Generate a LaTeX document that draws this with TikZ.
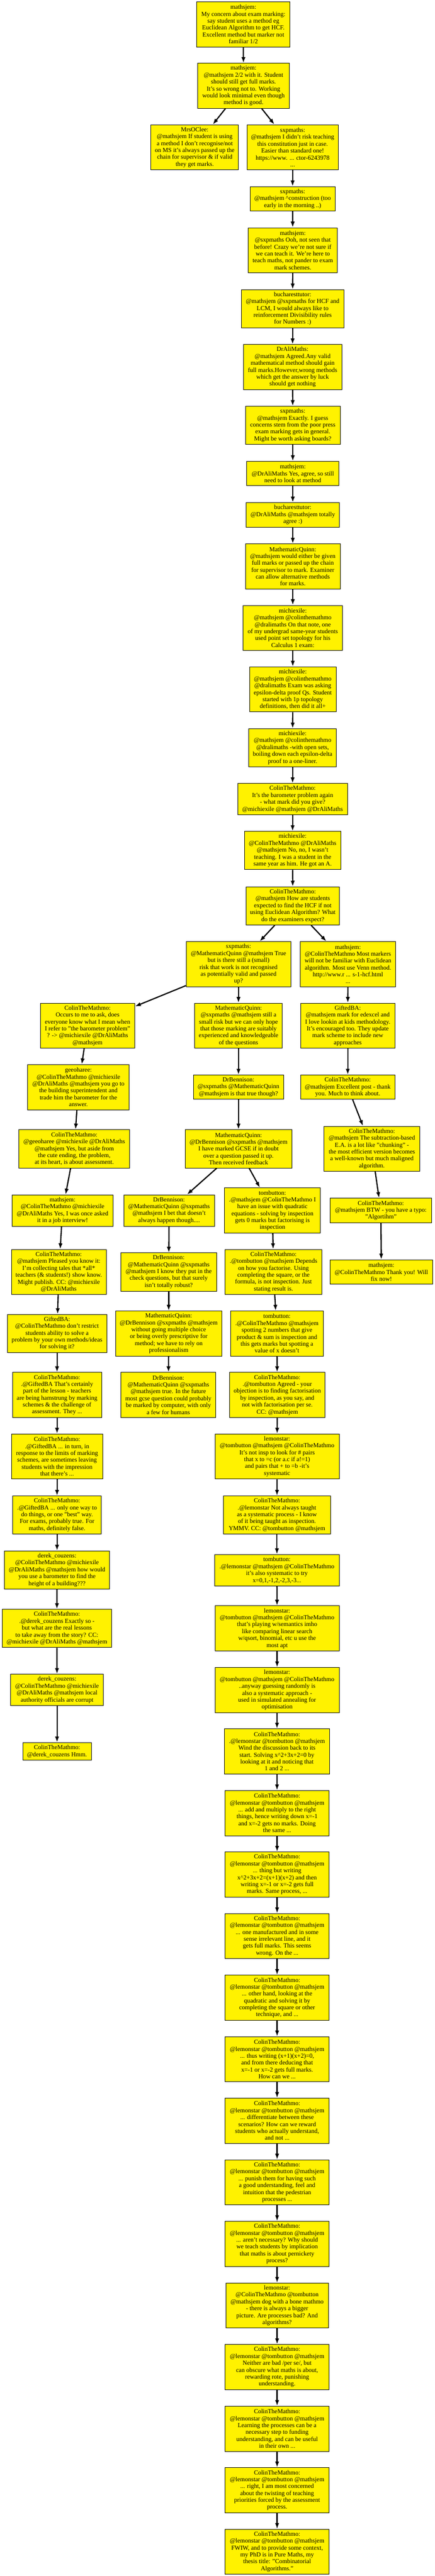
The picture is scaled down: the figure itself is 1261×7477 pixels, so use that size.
\documentclass[tikz,border=0pt]{standalone}
\usepackage{fontspec}
\setmainfont{Liberation Serif}
\usetikzlibrary{arrows.meta}

\begin{document}
\begin{tikzpicture}[x=1pt,y=-1pt,
    tweet/.style={draw=black,line width=1.3pt,fill=yellow,align=center,inner sep=2pt,
      font=\fontsize{18}{20}\selectfont},
    reply/.style={line width=3.5pt,-{Latex[length=17pt,width=12pt]}}]
  \useasboundingbox (0,0) rectangle (1261,7477);

  \node[tweet,minimum width=270,minimum height=131] (concern) at (706,70.5) {mathsjem:\\My concern about exam marking:\\say student uses a method eg\\Euclidean Algorithm to get HCF.\\Excellent method but marker not\\familiar 1/2};
  \node[tweet,minimum width=265,minimum height=131] (twoOfTwo) at (706.5,249) {mathsjem:\\@mathsjem 2/2 with it. Student\\should still get full marks.\\It's so wrong not to. Working\\would look minimal even though\\method is good.};
  \node[tweet,minimum width=254,minimum height=131] (mrsoclee) at (565,427.5) {MrsOClee:\\@mathsjem If student is using\\a method I don't recognise/not\\on MS it's always passed up the\\chain for supervisor \& if valid\\they get marks.};
  \node[tweet,minimum width=264,minimum height=131] (sxpTeach) at (849,427.5) {sxpmaths:\\@mathsjem I didn't risk teaching\\this constitution just in case.\\Easier than standard one!\\https://www. ... ctor-6243978\\...};
  \node[tweet,minimum width=246,minimum height=71] (sxpConstr) at (849,577) {sxpmaths:\\@mathsjem \^{}construction (too\\early in the morning ..)};
  \node[tweet,minimum width=259,minimum height=131] (mjOoh) at (849.5,726.5) {mathsjem:\\@sxpmaths Ooh, not seen that\\before! Crazy we're not sure if\\we can teach it. We're here to\\teach maths, not pander to exam\\mark schemes.};
  \node[tweet,minimum width=298,minimum height=111] (bucHcf) at (849,896) {bucharesttutor:\\@mathsjem @sxpmaths for HCF and\\LCM, I would always like to\\reinforcement Divisibility rules\\for Numbers :)};
  \node[tweet,minimum width=286,minimum height=131] (draliAgreed) at (849,1065.5) {DrAliMaths:\\@mathsjem Agreed.Any valid\\mathematical method should gain\\full marks.However,wrong methods\\which get the answer by luck\\should get nothing};
  \node[tweet,minimum width=275,minimum height=111] (sxpExactly) at (849.5,1234.5) {sxpmaths:\\@mathsjem Exactly. I guess\\concerns stem from the poor press\\exam marking gets in general.\\Might be worth asking boards?};
  \node[tweet,minimum width=267,minimum height=71] (mjAgree) at (849.5,1374.5) {mathsjem:\\@DrAliMaths Yes, agree, so still\\need to look at method};
  \node[tweet,minimum width=271,minimum height=71] (bucAgree) at (849.5,1494.5) {bucharesttutor:\\@DrAliMaths @mathsjem totally\\agree :)};
  \node[tweet,minimum width=275,minimum height=131] (mqFull) at (849.5,1644) {MathematicQuinn:\\@mathsjem would either be given\\full marks or passed up the chain\\for supervisor to mark. Examiner\\can allow alternative methods\\for marks.};
  \node[tweet,minimum width=289,minimum height=131] (mxNote) at (849.5,1822.5) {michiexile:\\@mathsjem @colinthemathmo\\@dralimaths On that note, one\\of my undergrad same-year students\\used point set topology for his\\Calculus 1 exam:};
  \node[tweet,minimum width=251,minimum height=131] (mxExam) at (849.5,2001) {michiexile:\\@mathsjem @colinthemathmo\\@dralimaths Exam was asking\\epsilon-delta proof Qs. Student\\started with 1p topology\\definitions, then did it all+};
  \node[tweet,minimum width=254,minimum height=111] (mxOpen) at (849,2170.5) {michiexile:\\@mathsjem @colinthemathmo\\@dralimaths -with open sets,\\boiling down each epsilon-delta\\proof to a one-liner.};
  \node[tweet,minimum width=318,minimum height=91] (ctmBarometer) at (849,2319.5) {ColinTheMathmo:\\It's the barometer problem again\\- what mark did you give?\\@michiexile @mathsjem @DrAliMaths};
  \node[tweet,minimum width=280,minimum height=111] (mxStudent) at (849,2468.5) {michiexile:\\@ColinTheMathmo @DrAliMaths\\@mathsjem No, no, I wasn't\\teaching. I was a student in the\\same year as him. He got an A.};
  \node[tweet,minimum width=271,minimum height=111] (ctmHcf) at (849.5,2629.5) {ColinTheMathmo:\\@mathsjem How are students\\expected to find the HCF if not\\using Euclidean Algorithm? What\\do the examiners expect?};
  \node[tweet,minimum width=304,minimum height=131] (sxpRisk) at (692,2798.5) {sxpmaths:\\@MathematicQuinn @mathsjem True\\but is there still a (small)\\risk that work is not recognised\\as potentially valid and passed\\up?};
  \node[tweet,minimum width=277,minimum height=131] (mjVenn) at (1009.5,2798.5) {mathsjem:\\@ColinTheMathmo Most markers\\will not be familiar with Euclidean\\algorithm. Most use Venn method.\\http://www.r ... s-1-hcf.html\\...};
  \node[tweet,minimum width=274,minimum height=131] (ctmOccurs) at (254,2977) {ColinTheMathmo:\\Occurs to me to ask, does\\everyone know what I mean when\\I refer to "the barometer problem"\\? -> @michiexile @DrAliMaths\\@mathsjem};
  \node[tweet,minimum width=254,minimum height=131] (mqHope) at (692,2977) {MathematicQuinn:\\@sxpmaths @mathsjem still a\\small risk but we can only hope\\that those marking are suitably\\experienced and knowledgeable\\of the questions};
  \node[tweet,minimum width=274,minimum height=131] (giftedEdexcel) at (1009,2977) {GiftedBA:\\@mathsjem mark for edexcel and\\I love lookin at kids methodology.\\It's encouraged too. They update\\mark scheme to include new\\approaches};
  \node[tweet,minimum width=295,minimum height=131] (geeoharee) at (227.5,3155.5) {geeoharee:\\@ColinTheMathmo @michiexile\\@DrAliMaths @mathsjem you go to\\the building superintendent and\\trade him the barometer for the\\answer.};
  \node[tweet,minimum width=262,minimum height=71] (drbTrue) at (692,3155.5) {DrBennison:\\@sxpmaths @MathematicQuinn\\@mathsjem is that true though?};
  \node[tweet,minimum width=274,minimum height=71] (ctmExcellent) at (1009,3155.5) {ColinTheMathmo:\\@mathsjem Excellent post - thank\\you. Much to think about.};
  \node[tweet,minimum width=321,minimum height=111] (ctmAside) at (215.5,3334.5) {ColinTheMathmo:\\@geeoharee @michiexile @DrAliMaths\\@mathsjem Yes, but aside from\\the cute ending, the problem,\\at its heart, is about assessment.};
  \node[tweet,minimum width=310,minimum height=111] (mqGcse) at (692,3334.5) {MathematicQuinn:\\@DrBennison @sxpmaths @mathsjem\\I have marked GCSE if in doubt\\over a question passed it up.\\Then received feedback};
  \node[tweet,minimum width=278,minimum height=131] (ctmChunking) at (1079,3334.5) {ColinTheMathmo:\\@mathsjem The subtraction-based\\E.A. is a lot like "chunking" -\\the most efficient version becomes\\a well-known but much maligned\\algorithm.};
  \node[tweet,minimum width=293,minimum height=91] (mjInterview) at (181.5,3513.5) {mathsjem:\\@ColinTheMathmo @michiexile\\@DrAliMaths Yes, I was once asked\\it in a job interview!};
  \node[tweet,minimum width=263,minimum height=91] (drbBet) at (490.5,3513.5) {DrBennison:\\@MathematicQuinn @sxpmaths\\@mathsjem I bet that doesn't\\always happen though....};
  \node[tweet,minimum width=279,minimum height=131] (tbIssue) at (790.5,3513.5) {tombutton:\\.@mathsjem @ColinTheMathmo I\\have an issue with quadratic\\equations - solving by inspection\\gets 0 marks but factorising is\\inspection};
  \node[tweet,minimum width=294,minimum height=71] (ctmTypo) at (1105,3513.5) {ColinTheMathmo:\\@mathsjem BTW - you have a typo:\\"Algortihm"};
  \node[tweet,minimum width=275,minimum height=131] (ctmTales) at (170.5,3692) {ColinTheMathmo:\\@mathsjem Pleased you know it:\\I'm collecting tales that *all*\\teachers (\& students!) show know.\\Might publish. CC: @michiexile\\@DrAliMaths};
  \node[tweet,minimum width=277,minimum height=111] (drbCheck) at (489.5,3692) {DrBennison:\\@MathematicQuinn @sxpmaths\\@mathsjem I know they put in the\\check questions, but that surely\\isn't totally robust?};
  \node[tweet,minimum width=281,minimum height=131] (ctmDepends) at (793.5,3692) {ColinTheMathmo:\\.@tombutton @mathsjem Depends\\on how you factorise. Using\\completing the square, or the\\formula, is not inspection. Just\\stating result is.};
  \node[tweet,minimum width=297,minimum height=71] (mjFix) at (1106.5,3692) {mathsjem:\\@ColinTheMathmo Thank you! Will\\fix now!};
  \node[tweet,minimum width=289,minimum height=111] (giftedRestrict) at (165.5,3870.5) {GiftedBA:\\@ColinTheMathmo don't restrict\\students ability to solve a\\problem by your own methods/ideas\\for solving it?};
  \node[tweet,minimum width=309,minimum height=131] (mqProfession) at (489.5,3870.5) {MathematicQuinn:\\@DrBennison @sxpmaths @mathsjem\\without going multiple choice\\or being overly prescriptive for\\method; we have to rely on\\professionalism};
  \node[tweet,minimum width=269,minimum height=131] (tbSpotting) at (803.5,3870.5) {tombutton:\\.@ColinTheMathmo @mathsjem\\spotting 2 numbers that give\\product \& sum is inspection and\\this gets marks but spotting a\\value of x doesn't};
  \node[tweet,minimum width=259,minimum height=131] (ctmLesson) at (165.5,4049) {ColinTheMathmo:\\.@GiftedBA That's certainly\\part of the lesson - teachers\\are being hamstrung by marking\\schemes \& the challenge of\\assessment. They ...};
  \node[tweet,minimum width=275,minimum height=131] (drbComputer) at (488.5,4049) {DrBennison:\\@MathematicQuinn @sxpmaths\\@mathsjem true. In the future\\most gcse question could probably\\be marked by computer, with only\\a few for humans};
  \node[tweet,minimum width=277,minimum height=131] (ctmObjection) at (804.5,4049) {ColinTheMathmo:\\.@tombutton Agreed - your\\objection is to finding factorisation\\by inspection, as you say, and\\not with factorisation per se.\\CC: @mathsjem};
  \node[tweet,minimum width=265,minimum height=131] (ctmInTurn) at (165.5,4227.5) {ColinTheMathmo:\\.@GiftedBA ... in turn, in\\response to the limits of marking\\schemes, are sometimes leaving\\students with the impression\\that there's ...};
  \node[tweet,minimum width=360,minimum height=131] (lemPairs) at (804,4227.5) {lemonstar:\\@tombutton @mathsjem @ColinTheMathmo\\It's not insp to look for \# pairs\\that x to =c (or a.c if a!=1)\\and pairs that + to =b -it's\\systematic};
  \node[tweet,minimum width=257,minimum height=111] (ctmOneWay) at (165.5,4397.5) {ColinTheMathmo:\\.@GiftedBA ... only one way to\\do things, or one "best" way.\\For exams, probably true. For\\maths, definitely false.};
  \node[tweet,minimum width=311,minimum height=111] (ctmNotAlways) at (803.5,4397.5) {ColinTheMathmo:\\.@lemonstar Not always taught\\as a systematic process - I know\\of it being taught as inspection.\\YMMV. CC: @tombutton @mathsjem};
  \node[tweet,minimum width=305,minimum height=111] (derekHeight) at (165.5,4557) {derek\_couzens:\\@ColinTheMathmo @michiexile\\@DrAliMaths @mathsjem how would\\you use a barometer to find the\\height of a building???};
  \node[tweet,minimum width=363,minimum height=91] (tbTry) at (803.5,4557.5) {tombutton:\\.@lemonstar @mathsjem @ColinTheMathmo\\it's also systematic to try\\x=0,1,-1,2,-2,3,-3...};
  \node[tweet,minimum width=318,minimum height=111] (ctmLessons) at (165,4726.5) {ColinTheMathmo:\\.@derek\_couzens Exactly so -\\but what are the real lessons\\to take away from the story? CC:\\@michiexile @DrAliMaths @mathsjem};
  \node[tweet,minimum width=360,minimum height=131] (lemSemantics) at (804,4726.5) {lemonstar:\\@tombutton @mathsjem @ColinTheMathmo\\that's playing w/semantics imho\\like comparing linear search\\w/qsort, binomial, etc u use the\\most apt};
  \node[tweet,minimum width=269,minimum height=91] (derekCorrupt) at (165.5,4905) {derek\_couzens:\\@ColinTheMathmo @michiexile\\@DrAliMaths @mathsjem local\\authority officials are corrupt};
  \node[tweet,minimum width=360,minimum height=131] (lemAnnealing) at (804,4905.5) {lemonstar:\\@tombutton @mathsjem @ColinTheMathmo\\..anyway guessing randomly is\\also a systematic approach -\\used in simulated annealing for\\optimisation};
  \node[tweet,minimum width=199,minimum height=51] (ctmHmm) at (165.5,5083.5) {ColinTheMathmo:\\@derek\_couzens Hmm.};
  \node[tweet,minimum width=305,minimum height=131] (ctmWind) at (803.5,5083.5) {ColinTheMathmo:\\.@lemonstar @tombutton @mathsjem\\Wind the discussion back to its\\start. Solving x\^{}2+3x+2=0 by\\looking at it and noticing that\\1 and 2 ...};
  \node[tweet,minimum width=302,minimum height=131] (ctmAdd) at (804,5262.5) {ColinTheMathmo:\\@lemonstar @tombutton @mathsjem\\... add and multiply to the right\\things, hence writing down x=-1\\and x=-2 gets no marks. Doing\\the same ...};
  \node[tweet,minimum width=302,minimum height=131] (ctmThing) at (804,5441) {ColinTheMathmo:\\@lemonstar @tombutton @mathsjem\\... thing but writing\\x\^{}2+3x+2=(x+1)(x+2) and then\\writing x=-1 or x=-2 gets full\\marks. Same process, ...};
  \node[tweet,minimum width=302,minimum height=131] (ctmManufactured) at (804,5619.5) {ColinTheMathmo:\\@lemonstar @tombutton @mathsjem\\... one manufactured and in some\\sense irrelevant line, and it\\gets full marks. This seems\\wrong. On the ...};
  \node[tweet,minimum width=302,minimum height=131] (ctmOtherHand) at (804,5798.5) {ColinTheMathmo:\\@lemonstar @tombutton @mathsjem\\... other hand, looking at the\\quadratic and solving it by\\completing the square or other\\technique, and ...};
  \node[tweet,minimum width=302,minimum height=131] (ctmThus) at (804,5977) {ColinTheMathmo:\\@lemonstar @tombutton @mathsjem\\... thus writing (x+1)(x+2)=0,\\and from there deducing that\\x=-1 or x=-2 gets full marks.\\How can we ...};
  \node[tweet,minimum width=302,minimum height=131] (ctmDifferentiate) at (804,6155.5) {ColinTheMathmo:\\@lemonstar @tombutton @mathsjem\\... differentiate between these\\scenarios? How can we reward\\students who actually understand,\\and not ...};
  \node[tweet,minimum width=302,minimum height=131] (ctmPunish) at (804,6334.5) {ColinTheMathmo:\\@lemonstar @tombutton @mathsjem\\... punish them for having such\\a good understanding, feel and\\intuition that the pedestrian\\processes ...};
  \node[tweet,minimum width=302,minimum height=131] (ctmPernickety) at (804,6513) {ColinTheMathmo:\\@lemonstar @tombutton @mathsjem\\... aren't necessary? Why should\\we teach students by implication\\that maths is about pernickety\\process?};
  \node[tweet,minimum width=298,minimum height=131] (lemBone) at (804,6692) {lemonstar:\\@ColinTheMathmo @tombutton\\@mathsjem dog with a bone mathmo\\- there is always a bigger\\picture. Are processes bad? And\\algorithms?};
  \node[tweet,minimum width=302,minimum height=131] (ctmNeither) at (804,6870.5) {ColinTheMathmo:\\@lemonstar @tombutton @mathsjem\\Neither are bad /per se/, but\\can obscure what maths is about,\\rewarding rote, punishing\\understanding.};
  \node[tweet,minimum width=302,minimum height=131] (ctmLearning) at (804,7049.5) {ColinTheMathmo:\\@lemonstar @tombutton @mathsjem\\Learning the processes can be a\\necessary step to funding\\understanding, and can be useful\\in their own ...};
  \node[tweet,minimum width=302,minimum height=131] (ctmTwisting) at (804,7228) {ColinTheMathmo:\\@lemonstar @tombutton @mathsjem\\... right, I am most concerned\\about the twisting of teaching\\priorities forced by the assessment\\process.};
  \node[tweet,minimum width=302,minimum height=131] (ctmContext) at (804,7406.5) {ColinTheMathmo:\\@lemonstar @tombutton @mathsjem\\FWIW, and to provide some context,\\my PhD is in Pure Maths, my\\thesis title: "Combinatorial\\Algorithms."};

  \draw[reply] (concern) -- (twoOfTwo);
  \draw[reply] (twoOfTwo) -- (mrsoclee);
  \draw[reply] (twoOfTwo) -- (sxpTeach);
  \draw[reply] (sxpTeach) -- (sxpConstr);
  \draw[reply] (sxpConstr) -- (mjOoh);
  \draw[reply] (mjOoh) -- (bucHcf);
  \draw[reply] (bucHcf) -- (draliAgreed);
  \draw[reply] (draliAgreed) -- (sxpExactly);
  \draw[reply] (sxpExactly) -- (mjAgree);
  \draw[reply] (mjAgree) -- (bucAgree);
  \draw[reply] (bucAgree) -- (mqFull);
  \draw[reply] (mqFull) -- (mxNote);
  \draw[reply] (mxNote) -- (mxExam);
  \draw[reply] (mxExam) -- (mxOpen);
  \draw[reply] (mxOpen) -- (ctmBarometer);
  \draw[reply] (ctmBarometer) -- (mxStudent);
  \draw[reply] (mxStudent) -- (ctmHcf);
  \draw[reply] (ctmHcf) -- (sxpRisk);
  \draw[reply] (ctmHcf) -- (mjVenn);
  \draw[reply] (sxpRisk) -- (ctmOccurs);
  \draw[reply] (sxpRisk) -- (mqHope);
  \draw[reply] (mjVenn) -- (giftedEdexcel);
  \draw[reply] (ctmOccurs) -- (geeoharee);
  \draw[reply] (mqHope) -- (drbTrue);
  \draw[reply] (giftedEdexcel) -- (ctmExcellent);
  \draw[reply] (geeoharee) -- (ctmAside);
  \draw[reply] (drbTrue) -- (mqGcse);
  \draw[reply] (ctmExcellent) -- (ctmChunking);
  \draw[reply] (ctmAside) -- (mjInterview);
  \draw[reply] (mqGcse) -- (drbBet);
  \draw[reply] (mqGcse) -- (tbIssue);
  \draw[reply] (ctmChunking) -- (ctmTypo);
  \draw[reply] (mjInterview) -- (ctmTales);
  \draw[reply] (drbBet) -- (drbCheck);
  \draw[reply] (tbIssue) -- (ctmDepends);
  \draw[reply] (ctmTypo) -- (mjFix);
  \draw[reply] (ctmTales) -- (giftedRestrict);
  \draw[reply] (drbCheck) -- (mqProfession);
  \draw[reply] (ctmDepends) -- (tbSpotting);
  \draw[reply] (giftedRestrict) -- (ctmLesson);
  \draw[reply] (mqProfession) -- (drbComputer);
  \draw[reply] (tbSpotting) -- (ctmObjection);
  \draw[reply] (ctmLesson) -- (ctmInTurn);
  \draw[reply] (ctmObjection) -- (lemPairs);
  \draw[reply] (ctmInTurn) -- (ctmOneWay);
  \draw[reply] (lemPairs) -- (ctmNotAlways);
  \draw[reply] (ctmOneWay) -- (derekHeight);
  \draw[reply] (ctmNotAlways) -- (tbTry);
  \draw[reply] (derekHeight) -- (ctmLessons);
  \draw[reply] (tbTry) -- (lemSemantics);
  \draw[reply] (ctmLessons) -- (derekCorrupt);
  \draw[reply] (lemSemantics) -- (lemAnnealing);
  \draw[reply] (derekCorrupt) -- (ctmHmm);
  \draw[reply] (lemAnnealing) -- (ctmWind);
  \draw[reply] (ctmWind) -- (ctmAdd);
  \draw[reply] (ctmAdd) -- (ctmThing);
  \draw[reply] (ctmThing) -- (ctmManufactured);
  \draw[reply] (ctmManufactured) -- (ctmOtherHand);
  \draw[reply] (ctmOtherHand) -- (ctmThus);
  \draw[reply] (ctmThus) -- (ctmDifferentiate);
  \draw[reply] (ctmDifferentiate) -- (ctmPunish);
  \draw[reply] (ctmPunish) -- (ctmPernickety);
  \draw[reply] (ctmPernickety) -- (lemBone);
  \draw[reply] (lemBone) -- (ctmNeither);
  \draw[reply] (ctmNeither) -- (ctmLearning);
  \draw[reply] (ctmLearning) -- (ctmTwisting);
  \draw[reply] (ctmTwisting) -- (ctmContext);
\end{tikzpicture}
\end{document}
